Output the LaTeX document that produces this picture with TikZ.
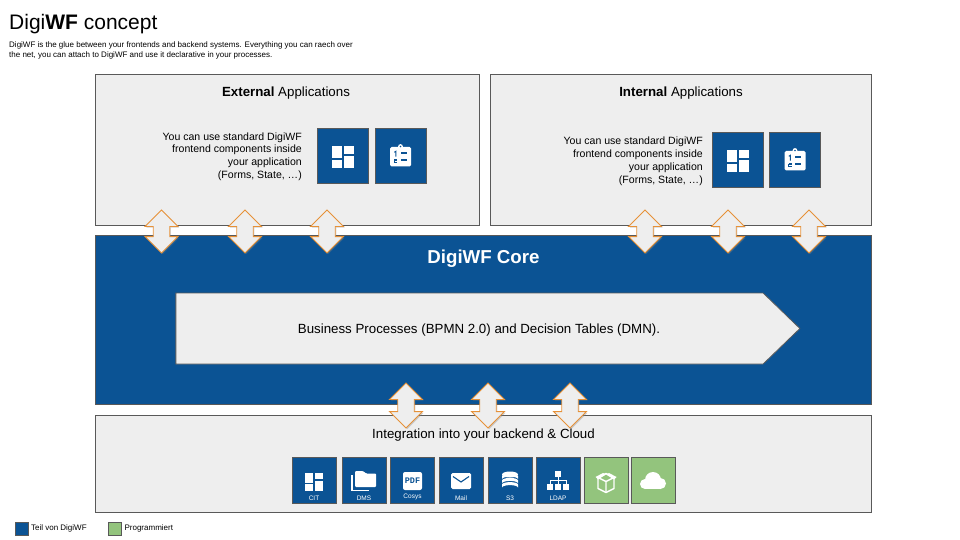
\documentclass[tikz,border=0pt]{standalone}
\usepackage{fontspec}
\setmainfont{Liberation Sans}
\setmonofont{Liberation Mono}
\usepackage{tikz}
\usetikzlibrary{positioning,shapes.arrows,shapes.symbols,shadows}
\definecolor{digiblue}{RGB}{11,83,148}
\definecolor{digigreen}{RGB}{147,196,125}
\definecolor{panelbg}{RGB}{238,238,238}
\definecolor{panelline}{RGB}{89,89,89}
\definecolor{linkline}{RGB}{230,145,56}
\tikzset{
    panel/.style={rectangle, draw=panelline, fill=panelbg, line width=0.8pt, inner sep=0pt},
    panelhead/.style={font=\fontsize{13.3}{15}\selectfont, text=black, inner sep=0pt},
    panelbody/.style={align=right, anchor=north east, inner sep=0pt, font=\fontsize{10.55}{12.85}\selectfont},
    iconbig/.style={rectangle, draw=panelline, fill=digiblue, line width=0.8pt, minimum width=51pt, minimum height=55pt, inner sep=0pt},
    iconsmall/.style={rectangle, draw=panelline, fill=digiblue, line width=0.8pt, minimum width=44pt, minimum height=46pt, inner sep=0pt},
    icongreen/.style={iconsmall, fill=digigreen},
    iconlabel/.style={text=white, inner sep=0pt, font=\fontsize{6.5}{7}\selectfont},
    legendbox/.style={rectangle, draw=panelline, line width=0.8pt, minimum width=13pt, minimum height=13pt, inner sep=0pt},
    legendtext/.style={anchor=west, inner sep=0pt, font=\fontsize{8}{9}\selectfont},
    linkarrow/.style={double arrow, shape border rotate=90, draw=linkline, fill=panelbg, line width=0.9pt,
        double arrow tip angle=90, double arrow head extend=8.2pt, inner sep=7.8pt,
        drop shadow={opacity=0.35, shadow xshift=1.2pt, shadow yshift=-1.2pt}},
    dashicon/.pic={
        \fill[white] (-11,-9.5) rectangle (-1,2.5);
        \fill[white] (1,-9.5) rectangle (11,-1.5);
        \fill[white] (-11,4.5) rectangle (-1,12.5);
        \fill[white] (1,0.5) rectangle (11,12.5);
    },
    clipicon/.pic={
        \fill[white, rounded corners=1.5pt] (-10.5,-8.5) rectangle (10.5,11);
        \fill[white] (0,-9) circle (2.4);
        \fill[digiblue] (0,-9) circle (0.9);
        \draw[digiblue, line width=1pt] (-6.2,-3.2) -- (-4.6,-4.2) -- (-4.6,1.2);
        \fill[digiblue] (0,-3.5) rectangle (6.3,-1.6);
        \draw[digiblue, line width=0.9pt] (-6.4,3.8) -- (-3.6,3.8) -- (-3.6,5.4) -- (-6.2,5.4) -- (-6.2,7.2) -- (-3.2,7.2);
        \fill[digiblue] (0,3.8) rectangle (6.3,5.7);
    },
    foldericon/.pic={
        \fill[white, rounded corners=1pt] (-9,-9) -- (-1,-9) -- (2,-6.5) -- (12,-6.5) -- (12,7) -- (-9,7) -- cycle;
        \draw[white, line width=1.1pt] (-12,-5) -- (-12,10.5) -- (5,10.5);
    },
    pdficon/.pic={
        \fill[white, rounded corners=2pt] (-9.5,-9) rectangle (9.5,9);
        \node[text=digiblue, inner sep=0pt, font=\fontsize{8.5}{9}\selectfont\bfseries\ttfamily] (pdfmark) at (0,-0.3) {PDF};
    },
    mailicon/.pic={
        \fill[white, rounded corners=1.5pt] (-10,-8) rectangle (10,8);
        \draw[digiblue, line width=1.1pt] (-8,-4.5) -- (0,1) -- (8,-4.5);
    },
    dbicon/.pic={
        \fill[white] (0,-6.5) ellipse (8 and 3);
        \fill[white] (-8,-4.8) arc[start angle=180, end angle=360, x radius=8, y radius=2.5] -- (8,-1.8) arc[start angle=0, end angle=-180, x radius=8, y radius=2.5] -- cycle;
        \fill[white] (-8,-0.6) arc[start angle=180, end angle=360, x radius=8, y radius=2.5] -- (8,2.4) arc[start angle=0, end angle=-180, x radius=8, y radius=2.5] -- cycle;
        \fill[white] (-8,3.6) arc[start angle=180, end angle=360, x radius=8, y radius=2.5] -- (8,6.6) arc[start angle=0, end angle=-180, x radius=8, y radius=2.5] -- cycle;
    },
    treeicon/.pic={
        \fill[white] (-3,-11) rectangle (3,-5);
        \draw[white, line width=0.9pt] (0,-5) -- (0,2) (-8,2) -- (-8,-1.5) -- (8,-1.5) -- (8,2);
        \fill[white] (-11,2) rectangle (-5,8);
        \fill[white] (-3,2) rectangle (3,8);
        \fill[white] (5,2) rectangle (11,8);
    },
    boxicon/.pic={
        \draw[white, line width=1.4pt, line join=round] (-8,-5) -- (0,-9) -- (8,-5) -- (8,6) -- (0,10) -- (-8,6) -- cycle;
        \draw[white, line width=1.4pt, line join=round] (-8,-5) -- (0,-1) -- (8,-5) (0,-1) -- (0,10);
        \fill[white] (-10.5,-5.5) -- (-3,-9.5) -- (0,-8) -- (-8,-3) -- cycle;
        \fill[white] (10.5,-5.5) -- (3,-9.5) -- (0,-8) -- (8,-3) -- cycle;
    },
    cloudicon/.pic={
        \fill[white] (-8,3.5) circle (5);
        \fill[white] (0,-0.5) circle (8);
        \fill[white] (7.5,3) circle (5.5);
        \fill[white] (-8,3) rectangle (7.5,8.5);
    },
}

\begin{document}
\begin{tikzpicture}[x=1pt, y=-1pt]
    \useasboundingbox (0,0) rectangle (960,540);

    \node[anchor=base west, inner sep=0pt, font=\fontsize{21}{24}\selectfont] (title) at (9,30) {Digi\textbf{WF} concept};
    \node[anchor=north west, align=left, inner sep=0pt, font=\fontsize{8}{10}\selectfont] (intro) at (9,41.5) {DigiWF is the glue between your frontends and backend systems. Everything you can raech over\\the net, you can attach to DigiWF and use it declarative in your processes.};

    \node[panel, minimum width=384pt, minimum height=151pt] (external) at (287,149.5) {};
    \node[panel, minimum width=381pt, minimum height=151pt] (internal) at (680.5,149.5) {};
    \node[panel, fill=digiblue, minimum width=776pt, minimum height=169pt] (core) at (483,319.5) {};
    \node[panel, minimum width=776pt, minimum height=97pt] (backend) at (483,463.5) {};

    \node[panelhead] (externalhead) at (286,93) {\textbf{External} Applications};
    \node[panelhead] (internalhead) at (681,93) {\textbf{Internal} Applications};
    \node[panelbody] (externalbody) at (302,132.3) {You can use standard DigiWF\\frontend components inside\\your application\\(Forms, State, \dots)};
    \node[panelbody] (internalbody) at (703,136.8) {You can use standard DigiWF\\frontend components inside\\your application\\(Forms, State, \dots)};

    \node[iconbig] (extdash) at (343,155.5) {};
    \node[iconbig] (extclip) at (400.5,155.5) {};
    \node[iconbig] (intdash) at (738,159.5) {};
    \node[iconbig] (intclip) at (795,159.5) {};
    \pic at (extdash) {dashicon};
    \pic at (extclip) {clipicon};
    \pic at (intdash) {dashicon};
    \pic at (intclip) {clipicon};

    \node[inner sep=0pt, text=white, font=\fontsize{18.7}{21}\selectfont\bfseries] (corehead) at (483.5,259) {DigiWF Core};
    \node[signal, signal to=east, signal pointer angle=88, draw=panelline, fill=panelbg, line width=0.8pt, minimum width=624pt, minimum height=71pt, inner sep=0pt] (process) at (469.5,328.5) {};
    \node[inner sep=0pt, font=\fontsize{13.3}{15}\selectfont] (processtext) at (479,330) {Business Processes (BPMN 2.0) and Decision Tables (DMN).};

    \node[panelhead] (backendhead) at (483.5,435) {Integration into your backend \& Cloud};

    \node[iconsmall] (cit) at (314,480) {};
    \node[iconsmall] (dms) at (364,480) {};
    \node[iconsmall] (cosys) at (412.5,480) {};
    \node[iconsmall] (mail) at (461,480) {};
    \node[iconsmall] (sthree) at (510,480) {};
    \node[iconsmall] (ldap) at (558,480) {};
    \node[icongreen] (boxservice) at (606,480) {};
    \node[icongreen] (cloudservice) at (653,480) {};
    \pic[scale=0.82] at ([yshift=-0.5pt]cit.center) {dashicon};
    \pic at (dms.center) {foldericon};
    \pic at ([yshift=-1pt]cosys.center) {pdficon};
    \pic at ([yshift=-1pt]mail.center) {mailicon};
    \pic at ([yshift=-1pt]sthree.center) {dbicon};
    \pic at ([yshift=-2pt]ldap.center) {treeicon};
    \pic at ([yshift=-2.5pt]boxservice.center) {boxicon};
    \pic at ([yshift=-0.5pt]cloudservice.center) {cloudicon};
    \node[iconlabel, above=3pt of cit.south] {CIT};
    \node[iconlabel, above=3pt of dms.south] {DMS};
    \node[iconlabel, above=3pt of cosys.south] {Cosys};
    \node[iconlabel, above=3pt of mail.south] {Mail};
    \node[iconlabel, above=3pt of sthree.south] {S3};
    \node[iconlabel, above=3pt of ldap.south] {LDAP};

    \node[linkarrow, minimum height=43pt] (exta) at (161.5,231.5) {};
    \node[linkarrow, minimum height=43pt] (extb) at (245,231.5) {};
    \node[linkarrow, minimum height=43pt] (extc) at (327,231.5) {};
    \node[linkarrow, minimum height=43pt] (inta) at (645,231.5) {};
    \node[linkarrow, minimum height=43pt] (intb) at (728,231.5) {};
    \node[linkarrow, minimum height=43pt] (intc) at (809,231.5) {};
    \node[linkarrow, minimum height=45pt] (backa) at (406,405.5) {};
    \node[linkarrow, minimum height=45pt] (backb) at (488,405.5) {};
    \node[linkarrow, minimum height=45pt] (backc) at (570,405.5) {};

    \node[legendbox, fill=digiblue] (legendblue) at (22,528.5) {};
    \node[legendbox, fill=digigreen] (legendgreen) at (115,528.5) {};
    \node[legendtext, right=2pt of legendblue] {Teil von DigiWF};
    \node[legendtext, right=2.5pt of legendgreen] {Programmiert};
\end{tikzpicture}
\end{document}
